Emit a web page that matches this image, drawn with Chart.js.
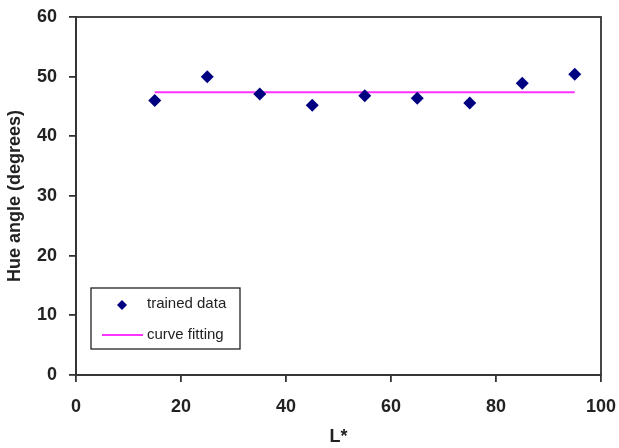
<!DOCTYPE html>
<html>
<head>
<meta charset="utf-8">
<script src="https://cdn.jsdelivr.net/npm/chart.js@4"></script>
<style>
  html, body { margin: 0; padding: 0; background: #fff; }
  #wrap { width: 619px; height: 448px; }
</style>
</head>
<body>
<div id="wrap"><canvas id="hueChart"></canvas></div>
<script>
// values
const lightness = [15, 25, 35, 45, 55, 65, 75, 85, 95];
const hueAngles = [46.0, 50.0, 47.1, 45.2, 46.8, 46.4, 45.6, 48.9, 50.4];
const fitX = [15, 95];
const fitY = [47.4, 47.4];
const xTicks = [0, 20, 40, 60, 80, 100];
const yTicks = [0, 10, 20, 30, 40, 50, 60];

const axisColor = "#333";
const font = { family: "'Liberation Sans', Arial, sans-serif", size: 18, weight: "bold" };

// box round the plot and the legend inside it
const framePlugin = {
    id: "frame",
    afterDraw(chart) {
        const { ctx, chartArea: a } = chart;
        ctx.save();
        ctx.strokeStyle = axisColor;
        ctx.lineWidth = 1.8;
        ctx.strokeRect(a.left, a.top, a.right - a.left, a.bottom - a.top);

        // legend
        const lx = 91, ly = 288, lw = 149, lh = 61;
        ctx.fillStyle = "#fff";
        ctx.fillRect(lx, ly, lw, lh);
        ctx.lineWidth = 1.3;
        ctx.strokeStyle = "#222";
        ctx.strokeRect(lx, ly, lw, lh);

        ctx.fillStyle = "#000080";
        ctx.beginPath();
        ctx.moveTo(122, 300); ctx.lineTo(127, 305); ctx.lineTo(122, 310); ctx.lineTo(117, 305);
        ctx.closePath();
        ctx.fill();

        ctx.strokeStyle = "#ff33ff";
        ctx.lineWidth = 2;
        ctx.beginPath();
        ctx.moveTo(102, 335); ctx.lineTo(143, 335);
        ctx.stroke();

        ctx.fillStyle = "#222";
        ctx.font = "15px 'Liberation Sans', Arial, sans-serif";
        ctx.textBaseline = "middle";
        ctx.fillText(chart.data.datasets[0].label, 147, 304);
        ctx.fillText(chart.data.datasets[1].label, 147, 335);
        ctx.restore();
    }
};

new Chart(document.getElementById("hueChart").getContext("2d"), {
    type: "scatter",
    data: {
        datasets: [
            {
                label: "trained data",
                data: lightness.map((x, i) => ({ x: x, y: hueAngles[i] })),
                pointStyle: "rectRot",
                pointRadius: 6.5,
                backgroundColor: "#000080",
                borderColor: "#000080",
                borderWidth: 0,
                order: 1
            },
            {
                label: "curve fitting",
                type: "line",
                data: fitX.map((x, i) => ({ x: x, y: fitY[i] })),
                borderColor: "#ff33ff",
                borderWidth: 2,
                pointRadius: 0,
                fill: false,
                order: 2
            }
        ]
    },
    options: {
        responsive: true,
        maintainAspectRatio: false,
        animation: false,
        layout: { padding: { top: 17, right: 18, left: 0, bottom: 0 } },
        plugins: { legend: { display: false }, tooltip: { enabled: false } },
        scales: {
            x: {
                type: "linear",
                min: 0,
                max: 100,
                afterBuildTicks: s => { s.ticks = xTicks.map(v => ({ value: v })); },
                afterFit: s => { s.height = 73; s.paddingLeft = 0; s.paddingRight = 0; },
                grid: { drawOnChartArea: false, tickLength: 7, color: axisColor, lineWidth: 1.8 },
                border: { color: axisColor, width: 1.8 },
                ticks: { color: "#222", font: font, padding: 14 },
                title: { display: true, text: "L*", color: "#222", font: font, padding: { top: 0, bottom: 0 } }
            },
            y: {
                min: 0,
                max: 60,
                afterBuildTicks: s => { s.ticks = yTicks.map(v => ({ value: v })); },
                afterFit: s => { s.width = 76; s.paddingTop = 0; s.paddingBottom = 0; },
                grid: { drawOnChartArea: false, tickLength: 7, color: axisColor, lineWidth: 1.8 },
                border: { color: axisColor, width: 1.8 },
                ticks: { color: "#222", font: font, padding: 12 },
                title: { display: true, text: "Hue angle (degrees)", color: "#222", font: font, padding: { top: 4, bottom: 0 } }
            }
        }
    },
    plugins: [framePlugin]
});
</script>
</body>
</html>
